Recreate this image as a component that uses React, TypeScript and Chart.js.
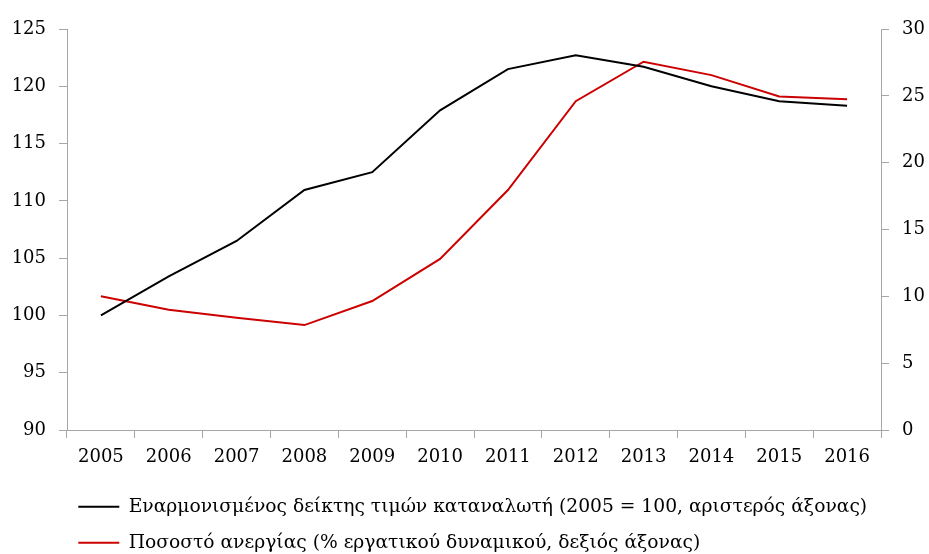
import React, { useEffect, useRef } from "react";
import { Chart, registerables } from "chart.js";

Chart.register(...registerables);

const years = ["2005", "2006", "2007", "2008", "2009", "2010", "2011", "2012", "2013", "2014", "2015", "2016"];
const hicpIndex = [100.0, 103.4, 106.5, 110.95, 112.5, 117.9, 121.5, 122.7, 121.7, 120.0, 118.7, 118.3];
const unemploymentRate = [10.0, 9.0, 8.4, 7.85, 9.65, 12.8, 17.95, 24.6, 27.55, 26.55, 24.95, 24.75];

const leftAxisRange = { min: 90, max: 125, step: 5 };
const rightAxisRange = { min: 0, max: 30, step: 5 };

const hicpLabel = "Εναρμονισμένος δείκτης τιμών καταναλωτή (2005 = 100, αριστερός άξονας)";
const unemploymentLabel = "Ποσοστό ανεργίας (% εργατικού δυναμικού, δεξιός άξονας)";

const FONT = "'DejaVu Serif', serif";
const AXIS_GRAY = "#a6a6a6";

export default function App() {
  const canvasRef = useRef<HTMLCanvasElement | null>(null);

  useEffect(() => {
    if (!canvasRef.current) return;
    const legendShift = {
      id: "legendShift",
      afterLayout(chart: any) {
        const lg = chart.legend;
        if (lg) {
          lg.left += 61;
          lg.right += 61;
        }
      },
    };
    const chart = new Chart(canvasRef.current, {
      type: "line",
      data: {
        labels: years,
        datasets: [
          {
            label: hicpLabel,
            data: hicpIndex,
            borderColor: "#000000",
            backgroundColor: "#000000",
            borderWidth: 2,
            pointRadius: 0,
            tension: 0,
            yAxisID: "y",
          },
          {
            label: unemploymentLabel,
            data: unemploymentRate,
            borderColor: "#cc0000",
            backgroundColor: "#cc0000",
            borderWidth: 2,
            pointRadius: 0,
            tension: 0,
            yAxisID: "y1",
          },
        ],
      },
      options: {
        animation: false,
        responsive: false,
        maintainAspectRatio: false,
        layout: { padding: { top: 29, left: 0, right: 0, bottom: 0 } },
        plugins: {
          tooltip: { enabled: false },
          legend: {
            position: "bottom",
            align: "start",
            labels: {
              boxWidth: 41,
              boxHeight: 2,
              padding: 17.3,
              color: "#000",
              font: { family: FONT, size: 18.7 },
              generateLabels: (c: any) =>
                Chart.defaults.plugins.legend.labels.generateLabels(c).map((it: any) => ({
                  ...it,
                  lineWidth: 0,
                  fillStyle: it.strokeStyle,
                })),
            },
          },
        },
        scales: {
          x: {
            offset: true,
            grid: {
              offset: true,
              drawOnChartArea: false,
              drawTicks: true,
              tickLength: 8,
              color: AXIS_GRAY,
            },
            border: { color: AXIS_GRAY, width: 1 },
            ticks: {
              color: "#000",
              font: { family: FONT, size: 18 },
              padding: 9,
              maxRotation: 0,
              autoSkip: false,
            },
            afterFit: (s: any) => {
              s.height = 50;
            },
          },
          y: {
            position: "left",
            min: leftAxisRange.min,
            max: leftAxisRange.max,
            grid: { drawOnChartArea: false, tickLength: 8, color: AXIS_GRAY },
            border: { color: AXIS_GRAY, width: 1 },
            ticks: {
              stepSize: leftAxisRange.step,
              color: "#000",
              font: { family: FONT, size: 18 },
              padding: 13,
            },
            afterFit: (s: any) => {
              s.width = 67;
            },
          },
          y1: {
            position: "right",
            min: rightAxisRange.min,
            max: rightAxisRange.max,
            grid: { drawOnChartArea: false, tickLength: 8, color: AXIS_GRAY },
            border: { color: AXIS_GRAY, width: 1 },
            ticks: {
              stepSize: rightAxisRange.step,
              color: "#000",
              font: { family: FONT, size: 18 },
              padding: 13,
            },
            afterFit: (s: any) => {
              s.width = 48;
            },
          },
        },
      },
      plugins: [legendShift],
    });
    return () => chart.destroy();
  }, []);

  return (
    <div
      style={{
        position: "fixed",
        left: 0,
        top: 0,
        width: 929,
        height: 554,
        overflow: "hidden",
        background: "#fff",
      }}
    >
      <canvas ref={canvasRef} width={929} height={562} style={{ display: "block", width: 929, height: 562 }} />
    </div>
  );
}
